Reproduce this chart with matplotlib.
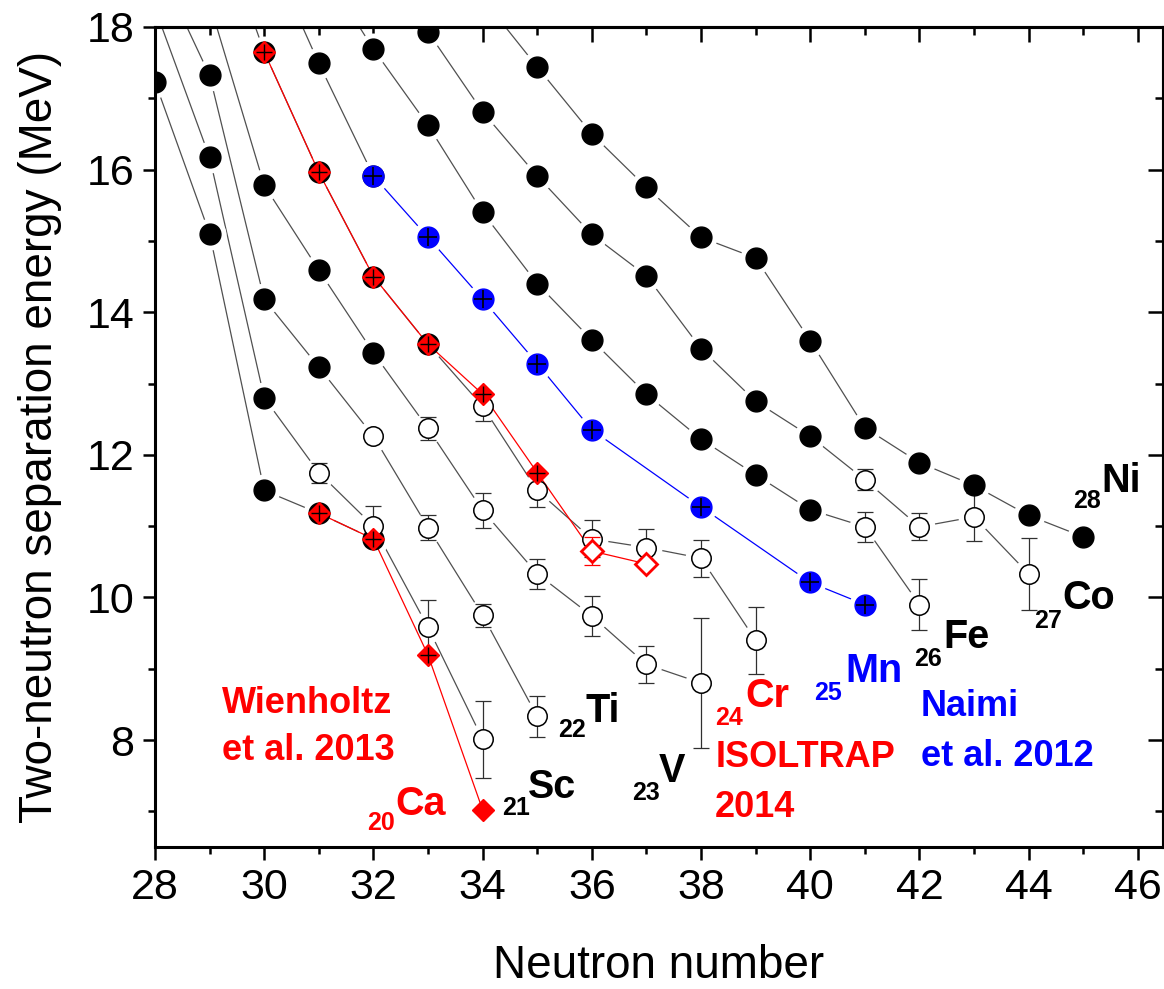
import numpy as np
import matplotlib.pyplot as plt
from matplotlib.ticker import MultipleLocator

plt.rcParams['font.family'] = ['Liberation Sans', 'DejaVu Sans']

# S2n (MeV) against neutron number, AME values (open = extrapolated).
# The first point of some chains lies above the frame, it only gives the
# slope of the line that comes in from the top.
ca_n = np.array([28, 29, 30, 31, 32])
ca_s2n = np.array([17.23, 15.10, 11.50, 11.18, 10.82])
ca_err = np.zeros(5)
ca_ext = np.array([0, 0, 0, 0, 0], bool)

sc_n = np.array([28, 29, 30, 31, 32, 33, 34])
sc_s2n = np.array([18.26, 16.17, 12.80, 11.75, 11.00, 9.58, 8.01])
sc_err = np.array([0, 0, 0, 0.14, 0.28, 0.39, 0.54])
sc_ext = np.array([0, 0, 0, 1, 1, 1, 1], bool)

ti_n = np.array([28, 29, 30, 31, 32, 33, 34, 35])
ti_s2n = np.array([18.95, 17.32, 14.18, 13.23, 12.26, 10.98, 9.75, 8.33])
ti_err = np.array([0, 0, 0, 0, 0.05, 0.18, 0.16, 0.29])
ti_ext = np.array([0, 0, 0, 0, 1, 1, 1, 1], bool)

v_n = np.array([29, 30, 31, 32, 33, 34, 35, 36, 37, 38])
v_s2n = np.array([18.33, 15.78, 14.59, 13.43, 12.37, 11.22, 10.33, 9.74, 9.06, 8.80])
v_err = np.array([0, 0, 0, 0, 0.16, 0.25, 0.21, 0.28, 0.26, 0.91])
v_ext = np.array([0, 0, 0, 0, 1, 1, 1, 1, 1, 1], bool)

cr_n = np.array([29, 30, 31, 32, 33, 34, 35, 36, 37, 38, 39])
cr_s2n = np.array([19.8, 17.65, 15.96, 14.50, 13.55, 12.68, 11.50, 10.82, 10.70, 10.55, 9.40])
cr_err = np.array([0, 0, 0, 0, 0, 0.21, 0.23, 0.26, 0.26, 0.26, 0.47])
cr_ext = np.array([0, 0, 0, 0, 0, 1, 1, 1, 1, 1, 1], bool)

mn_n = np.array([30, 31, 32])
mn_s2n = np.array([19.2, 17.49, 15.91])
mn_err = np.zeros(3)
mn_ext = np.array([0, 0, 0], bool)

fe_n = np.array([31, 32, 33, 34, 35, 36, 37, 38, 39, 40, 41, 42])
fe_s2n = np.array([18.9, 17.69, 16.62, 15.40, 14.40, 13.61, 12.85, 12.22, 11.72, 11.23, 10.99, 9.90])
fe_err = np.array([0, 0, 0, 0, 0, 0, 0, 0, 0, 0, 0.21, 0.36])
fe_ext = np.array([0, 0, 0, 0, 0, 0, 0, 0, 0, 0, 1, 1], bool)

co_n = np.array([32, 33, 34, 35, 36, 37, 38, 39, 40, 41, 42, 43, 44])
co_s2n = np.array([19.3, 17.93, 16.81, 15.91, 15.09, 14.51, 13.49, 12.75, 12.26, 11.65, 10.99, 11.13, 10.33])
co_err = np.array([0, 0, 0, 0, 0, 0, 0, 0, 0, 0.15, 0.19, 0.34, 0.50])
co_ext = np.array([0, 0, 0, 0, 0, 0, 0, 0, 0, 1, 1, 1, 1], bool)

ni_n = np.array([34, 35, 36, 37, 38, 39, 40, 41, 42, 43, 44, 45])
ni_s2n = np.array([18.4, 17.44, 16.50, 15.75, 15.05, 14.76, 13.60, 12.38, 11.89, 11.57, 11.15, 10.85])
ni_err = np.zeros(12)
ni_ext = np.zeros(12, bool)

# new measurements
wien_n = np.array([31, 32, 33, 34])            # Ca, Wienholtz et al. 2013
wien_s2n = np.array([11.18, 10.82, 9.19, 7.02])
isol_n = np.array([30, 31, 32, 33, 34, 35])    # Cr, ISOLTRAP 2014
isol_s2n = np.array([17.65, 15.96, 14.50, 13.55, 12.85, 11.75])
isol_open_n = np.array([36, 37])
isol_open_s2n = np.array([10.65, 10.47])
isol_open_err = np.array([0.20, 0.0])
naimi_n = np.array([32, 33, 34, 35, 36, 38, 40, 41])  # Mn, Naimi et al. 2012
naimi_s2n = np.array([15.91, 15.05, 14.18, 13.28, 12.35, 11.27, 10.21, 9.90])

RED = '#ff0000'
BLUE = '#0000ff'
GREY = '#505050'

fig = plt.figure(figsize=(11.64, 9.89), dpi=100)
ax = fig.add_axes([0.1332, 0.1436, 0.8659, 0.8291])


def chain(n, s2n, err, ext):
    ax.plot(n, s2n, '-', color=GREY, lw=0.9, zorder=1)
    ax.plot(n, s2n, 'o', ms=23, mfc='white', mec='none', zorder=2)
    if ext.any():
        ax.errorbar(n[ext], s2n[ext], yerr=err[ext], fmt='none', ecolor='#303030',
                    elinewidth=0.9, capsize=6, capthick=0.9, zorder=3)
    ax.plot(n[~ext], s2n[~ext], 'o', ms=15, mfc='black', mec='black', zorder=4)
    ax.plot(n[ext], s2n[ext], 'o', ms=14, mfc='white', mec='black', mew=1.1, zorder=4)


for args in [(ca_n, ca_s2n, ca_err, ca_ext), (sc_n, sc_s2n, sc_err, sc_ext),
             (ti_n, ti_s2n, ti_err, ti_ext), (v_n, v_s2n, v_err, v_ext),
             (cr_n, cr_s2n, cr_err, cr_ext), (mn_n, mn_s2n, mn_err, mn_ext),
             (fe_n, fe_s2n, fe_err, fe_ext), (co_n, co_s2n, co_err, co_ext),
             (ni_n, ni_s2n, ni_err, ni_ext)]:
    chain(*args)

# Naimi (blue)
ax.plot(naimi_n, naimi_s2n, '-', color=BLUE, lw=0.9, zorder=1)
ax.plot(naimi_n, naimi_s2n, 'o', ms=23, mfc='white', mec='none', zorder=2)
ax.plot(naimi_n, naimi_s2n, 'o', ms=15, mfc=BLUE, mec=BLUE, zorder=5)
ax.plot(naimi_n, naimi_s2n, '+', ms=13, mew=1.2, color='black', zorder=6)

# Wienholtz (red, Ca)
ax.plot(wien_n, wien_s2n, '-', color=RED, lw=0.9, zorder=2.5)
ax.plot(wien_n, wien_s2n, 'D', ms=11, mfc=RED, mec=RED, zorder=5)
ax.plot(wien_n[:-1], wien_s2n[:-1], '+', ms=12, mew=1.0, color='black', zorder=6)

# ISOLTRAP (red, Cr)
isol_all_n = np.concatenate([isol_n, isol_open_n])
isol_all_s2n = np.concatenate([isol_s2n, isol_open_s2n])
ax.plot(isol_all_n, isol_all_s2n, '-', color=RED, lw=0.9, zorder=2.5)
ax.errorbar(isol_open_n, isol_open_s2n, yerr=isol_open_err, fmt='none', ecolor=RED,
            elinewidth=0.9, capsize=6, capthick=0.9, zorder=4.5)
ax.plot(isol_n, isol_s2n, 'D', ms=11, mfc=RED, mec=RED, zorder=5)
ax.plot(isol_n, isol_s2n, '+', ms=12, mew=1.0, color='black', zorder=6)
ax.plot(isol_open_n, isol_open_s2n, 'D', ms=11.5, mfc='white', mec=RED, mew=2, zorder=5)

# labels
big = dict(fontsize=28.5, fontweight='bold')
small = dict(fontsize=18, fontweight='bold')
ref = dict(fontsize=26, fontweight='bold')
for x, y, xs, ys, sym, z, c in [
        (32.40, 6.95, 31.88, 6.74, 'Ca', '20', RED),
        (34.83, 7.19, 34.36, 6.95, 'Sc', '21', 'black'),
        (35.88, 8.25, 35.38, 8.04, 'Ti', '22', 'black'),
        (37.23, 7.41, 36.74, 7.16, 'V', '23', 'black'),
        (38.81, 8.46, 38.26, 8.21, 'Cr', '24', RED),
        (40.64, 8.81, 40.07, 8.56, 'Mn', '25', BLUE),
        (42.43, 9.29, 41.90, 9.04, 'Fe', '26', 'black'),
        (44.61, 9.84, 44.10, 9.57, 'Co', '27', 'black'),
        (45.34, 11.48, 44.81, 11.25, 'Ni', '28', 'black')]:
    ax.text(x, y, sym, color=c, va='baseline', ha='left', **big)
    ax.text(xs, ys, z, color=c, va='baseline', ha='left', **small)

ax.text(29.23, 8.38, 'Wienholtz', color=RED, va='baseline', **ref)
ax.text(29.23, 7.72, 'et al. 2013', color=RED, va='baseline', **ref)
ax.text(38.26, 7.62, 'ISOLTRAP', color=RED, va='baseline', **ref)
ax.text(38.26, 6.92, '2014', color=RED, va='baseline', **ref)
ax.text(42.03, 8.34, 'Naimi', color=BLUE, va='baseline', **ref)
ax.text(42.03, 7.64, 'et al. 2012', color=BLUE, va='baseline', **ref)

ax.set_xlim(28, 46.46)
ax.set_ylim(6.5, 18)
ax.xaxis.set_major_locator(MultipleLocator(2))
ax.xaxis.set_minor_locator(MultipleLocator(1))
ax.yaxis.set_major_locator(MultipleLocator(2))
ax.yaxis.set_minor_locator(MultipleLocator(1))
ax.tick_params(which='both', direction='out', width=1.8, labelsize=31, pad=6)
ax.tick_params(which='major', length=9)
ax.tick_params(which='minor', length=5)
for s in ax.spines.values():
    s.set_linewidth(2.2)

top = ax.secondary_xaxis('top')
right = ax.secondary_yaxis('right')
for sec, loc in [(top, top.xaxis), (right, right.yaxis)]:
    loc.set_major_locator(MultipleLocator(2))
    loc.set_minor_locator(MultipleLocator(1))
    sec.tick_params(which='both', direction='in', width=1.8,
                    labeltop=False, labelright=False, labelbottom=False, labelleft=False)
    sec.tick_params(which='major', length=11)
    sec.tick_params(which='minor', length=6)
    for s in sec.spines.values():
        s.set_linewidth(2.2)

ax.set_xlabel('Neutron number', fontsize=33)
ax.set_ylabel('Two-neutron separation energy (MeV)', fontsize=33)
ax.xaxis.set_label_coords(0.5, -0.118)
ax.yaxis.set_label_coords(-0.092, 0.5)

fig.savefig('out.png', dpi=100)
